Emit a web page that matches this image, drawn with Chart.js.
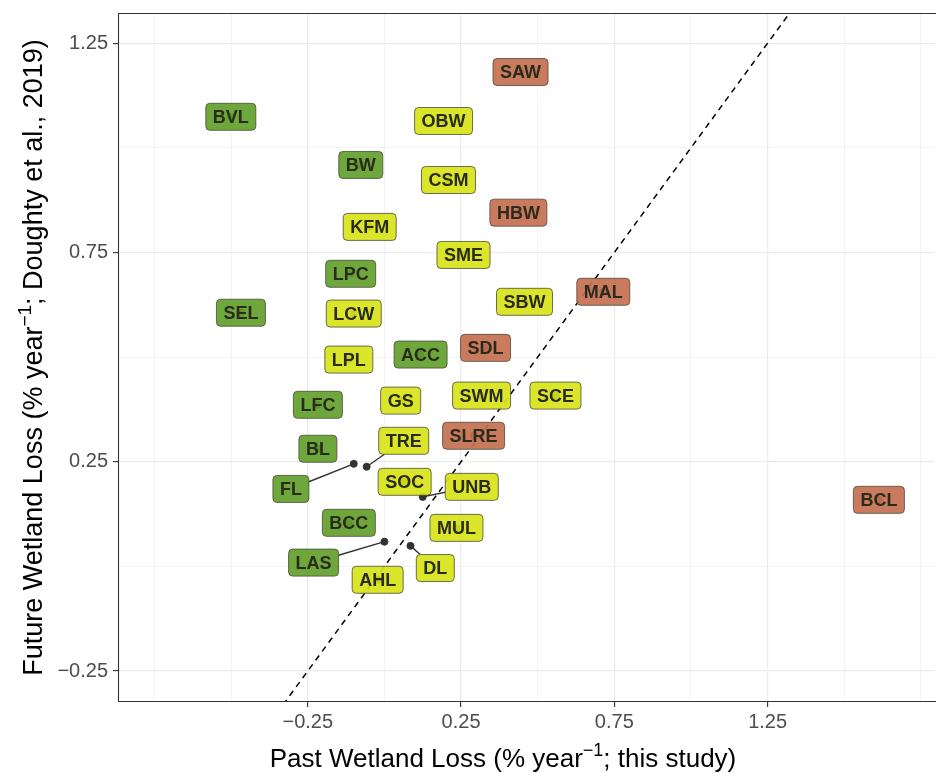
<!DOCTYPE html>
<html>
<head>
<meta charset="utf-8">
<script src="https://cdn.jsdelivr.net/npm/chart.js@4.4.1/dist/chart.umd.min.js"></script>
<style>
  html, body { margin: 0; padding: 0; background: #fff; overflow: hidden; }
  #clip { width: 936px; height: 773px; position: relative; overflow: hidden; }
  #wrap { width: 940px; height: 773px; position: relative; }
</style>
</head>
<body>
<div id="clip"><div id="wrap"><canvas id="lossChart"></canvas></div></div>
<script>
// site codes and loss rates (% per year)
var siteCodes = ['BVL', 'BW', 'OBW', 'CSM', 'KFM', 'SME', 'SAW', 'HBW', 'LPC', 'MAL', 'SBW',
    'SEL', 'LCW', 'SDL', 'ACC', 'LPL', 'SWM', 'SCE', 'GS', 'LFC', 'SLRE', 'TRE', 'BL', 'FL',
    'SOC', 'UNB', 'BCC', 'MUL', 'LAS', 'DL', 'AHL', 'BCL'];
var pastLoss = [-0.501, -0.077, 0.193, 0.209, -0.048, 0.258, 0.444, 0.437, -0.110, 0.714, 0.457,
    -0.468, -0.100, 0.330, 0.118, -0.116, 0.317, 0.558, 0.053, -0.217, 0.291, -0.058, -0.217, -0.100,
    0.066, 0.125, -0.116, 0.235, 0.000, 0.085, -0.022, 1.613];
var futureLoss = [1.074, 0.959, 1.064, 0.923, 0.811, 0.744, 1.181, 0.845, 0.699, 0.656, 0.632,
    0.606, 0.604, 0.522, 0.506, 0.494, 0.408, 0.408, 0.396, 0.386, 0.312, 0.238, 0.281, 0.245,
    0.202, 0.166, 0.104, 0.092, 0.059, 0.049, -0.032, 0.159];
var siteGroup = ['A', 'A', 'B', 'B', 'B', 'B', 'C', 'C', 'A', 'C', 'B',
    'A', 'B', 'C', 'A', 'B', 'B', 'B', 'B', 'A', 'C', 'B', 'A', 'A',
    'B', 'B', 'A', 'B', 'A', 'B', 'B', 'C'];
var majorTicks = [-0.25, 0.25, 0.75, 1.25];
var minorTicksX = [-0.75, -0.5, 0, 0.5, 1.0, 1.5, 1.75];
var minorTicksY = [0, 0.5, 1.0];

var groupFill = { A: 'rgba(98,160,42,0.92)', B: 'rgba(216,228,24,0.92)', C: 'rgba(198,112,80,0.92)' };

// labels pushed away from their point (data units), joined with a segment
var labelNudge = {
    FL: [-0.205, -0.060],
    TRE: [0.121, 0.062],
    UNB: [0.160, 0.024],
    LAS: [-0.231, -0.050],
    DL: [0.081, -0.053]
};

var FONT = '"Liberation Sans", Arial, sans-serif';

function isMajor(v) {
    return majorTicks.some(function (m) { return Math.abs(m - v) < 1e-6; });
}

function fmtTick(v) {
    if (!isMajor(v)) return '';
    var s = Math.abs(v).toFixed(2);
    return v < 0 ? '\u2212' + s : s;
}

function roundRect(c, x, y, w, h, r) {
    c.beginPath();
    c.moveTo(x + r, y);
    c.lineTo(x + w - r, y);
    c.quadraticCurveTo(x + w, y, x + w, y + r);
    c.lineTo(x + w, y + h - r);
    c.quadraticCurveTo(x + w, y + h, x + w - r, y + h);
    c.lineTo(x + r, y + h);
    c.quadraticCurveTo(x, y + h, x, y + h - r);
    c.lineTo(x, y + r);
    c.quadraticCurveTo(x, y, x + r, y);
    c.closePath();
}

// text with a "-1" superscript in the middle
function drawSupTitle(c, before, sup, after, size) {
    c.font = size + 'px ' + FONT;
    var w1 = c.measureText(before).width;
    var w3 = c.measureText(after).width;
    c.font = Math.round(size * 0.7) + 'px ' + FONT;
    var w2 = c.measureText(sup).width;
    var total = w1 + w2 + w3;
    var x = -total / 2;
    c.textAlign = 'left';
    c.textBaseline = 'alphabetic';
    c.font = size + 'px ' + FONT;
    c.fillText(before, x, 0);
    c.font = Math.round(size * 0.7) + 'px ' + FONT;
    c.fillText(sup, x + w1, -size * 0.42);
    c.font = size + 'px ' + FONT;
    c.fillText(after, x + w1 + w2, 0);
}

var labelPlugin = {
    id: 'siteLabels',
    afterDatasetsDraw: function (chart) {
        var c = chart.ctx;
        var xs = chart.scales.x, ys = chart.scales.y;
        c.save();
        c.font = 'bold 18px ' + FONT;
        for (var i = 0; i < siteCodes.length; i++) {
            var code = siteCodes[i];
            var nd = labelNudge[code] || [0, 0];
            var px = xs.getPixelForValue(pastLoss[i]);
            var py = ys.getPixelForValue(futureLoss[i]);
            var lx = xs.getPixelForValue(pastLoss[i] + nd[0]);
            var ly = ys.getPixelForValue(futureLoss[i] + nd[1]);
            var tw = c.measureText(code).width;
            var w = tw + 14, h = 27;
            if (labelNudge[code]) {
                var dx = px - lx, dy = py - ly;
                var t = Math.min((w / 2) / Math.abs(dx || 1e-6), (h / 2) / Math.abs(dy || 1e-6));
                c.strokeStyle = '#333333';
                c.lineWidth = 1.4;
                c.beginPath();
                c.moveTo(px, py);
                c.lineTo(lx + dx * t, ly + dy * t);
                c.stroke();
            }
            roundRect(c, lx - w / 2, ly - h / 2, w, h, 4);
            c.fillStyle = groupFill[siteGroup[i]];
            c.fill();
            c.strokeStyle = '#4a4a3a';
            c.lineWidth = 0.8;
            c.stroke();
            c.fillStyle = '#2a2a1e';
            c.textAlign = 'center';
            c.textBaseline = 'middle';
            c.fillText(code, lx, ly + 1);
        }
        c.restore();
    },
    afterDraw: function (chart) {
        var c = chart.ctx;
        var a = chart.chartArea;
        c.save();
        // panel border (right side falls off the picture)
        c.strokeStyle = '#333333';
        c.lineWidth = 1.1;
        c.beginPath();
        c.moveTo(a.right + 2, a.top + 0.5);
        c.lineTo(a.left + 0.5, a.top + 0.5);
        c.lineTo(a.left + 0.5, a.bottom - 0.5);
        c.lineTo(a.right + 2, a.bottom - 0.5);
        c.stroke();
        // axis titles
        c.fillStyle = '#000000';
        c.save();
        c.translate(503, 767);
        drawSupTitle(c, 'Past Wetland Loss (% year', '\u22121', '; this study)', 26);
        c.restore();
        c.save();
        c.translate(42, (a.top + a.bottom) / 2);
        c.rotate(-Math.PI / 2);
        drawSupTitle(c, 'Future Wetland Loss (% year', '\u22121', '; Doughty et al., 2019)', 27);
        c.restore();
        c.restore();
    }
};

var points = siteCodes.map(function (s, i) { return { x: pastLoss[i], y: futureLoss[i] }; });

function gridWidth(ctx) {
    return ctx.tick && isMajor(ctx.tick.value) ? 1.2 : 0.6;
}
function tickCol(ctx) {
    return ctx.tick && isMajor(ctx.tick.value) ? '#333333' : 'rgba(0,0,0,0)';
}

var ctx = document.getElementById('lossChart').getContext('2d');
var lossChart = new Chart(ctx, {
    type: 'scatter',
    data: {
        datasets: [
            {
                label: '1:1',
                type: 'line',
                data: [{ x: -0.5, y: -0.5 }, { x: 1.5, y: 1.5 }],
                borderColor: '#000000',
                borderWidth: 1.5,
                borderDash: [6, 5],
                pointRadius: 0,
                fill: false,
                order: 2
            },
            {
                label: 'sites',
                data: points,
                backgroundColor: '#333333',
                borderColor: '#333333',
                pointRadius: 3.5,
                order: 1
            }
        ]
    },
    options: {
        responsive: true,
        maintainAspectRatio: false,
        animation: false,
        layout: { padding: { top: 13, right: 0, left: 0, bottom: 0 } },
        plugins: {
            legend: { display: false },
            tooltip: { enabled: false }
        },
        scales: {
            x: {
                type: 'linear',
                min: -0.869,
                max: 1.796,
                afterFit: function (s) {
                    s.height = 71;
                    s.paddingLeft = 0;
                    s.paddingRight = 0;
                },
                afterBuildTicks: function (s) {
                    s.ticks = majorTicks.concat(minorTicksX).sort(function (a, b) { return a - b; })
                        .map(function (v) { return { value: v }; });
                },
                border: { display: false },
                grid: {
                    color: '#ebebeb',
                    lineWidth: gridWidth,
                    drawTicks: true,
                    tickLength: 5,
                    tickColor: tickCol,
                    tickWidth: 1.1
                },
                ticks: {
                    callback: fmtTick,
                    color: '#4d4d4d',
                    font: { family: FONT, size: 20 },
                    padding: 3,
                    maxRotation: 0,
                    autoSkip: false
                }
            },
            y: {
                type: 'linear',
                min: -0.324,
                max: 1.322,
                afterFit: function (s) {
                    s.width = 118;
                    s.paddingTop = 0;
                    s.paddingBottom = 0;
                },
                afterBuildTicks: function (s) {
                    s.ticks = majorTicks.concat(minorTicksY).sort(function (a, b) { return a - b; })
                        .map(function (v) { return { value: v }; });
                },
                border: { display: false },
                grid: {
                    color: '#ebebeb',
                    lineWidth: gridWidth,
                    drawTicks: true,
                    tickLength: 5,
                    tickColor: tickCol,
                    tickWidth: 1.1
                },
                ticks: {
                    callback: fmtTick,
                    color: '#4d4d4d',
                    font: { family: FONT, size: 20 },
                    padding: 5,
                    autoSkip: false
                }
            }
        }
    },
    plugins: [labelPlugin]
});
</script>
</body>
</html>
